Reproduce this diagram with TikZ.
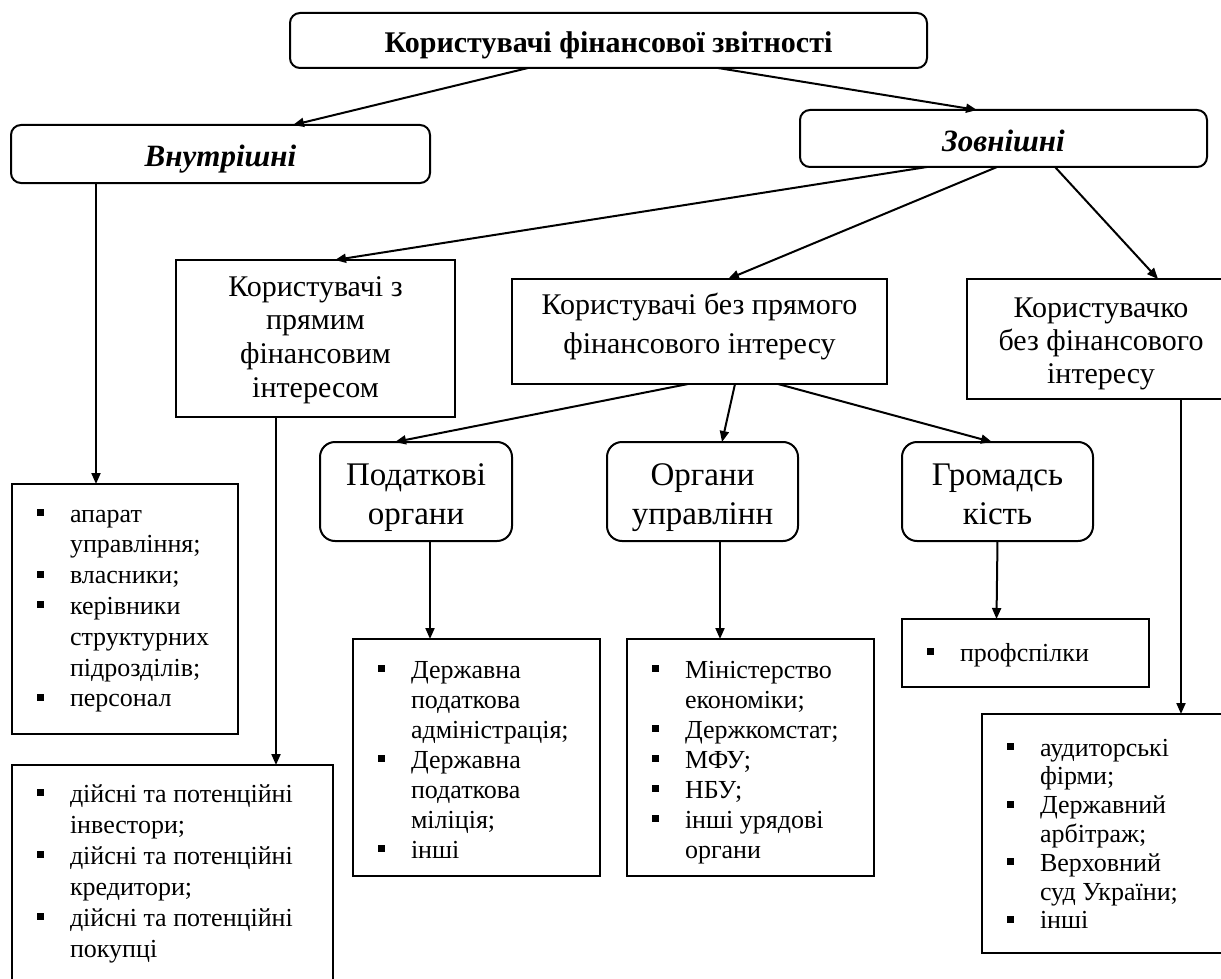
\documentclass[tikz,border=0pt]{standalone}
\usepackage{fontspec}
\setmainfont{Liberation Serif}
\usetikzlibrary{arrows.meta}
\newcommand{\sqb}{\makebox[33pt][l]{\rule[6pt]{7pt}{7pt}}}
\newcommand{\mlines}[1]{\begin{tabular}[t]{@{}c@{}}#1\end{tabular}}
\begin{document}
\begin{tikzpicture}[x=1pt,y=-1pt,
  box/.style={draw,line width=2pt,inner sep=0pt,outer sep=0pt,anchor=north west},
  rbox/.style={box,rounded corners=10pt},
  rrbox/.style={box,rounded corners=15pt},
  arr/.style={line width=2pt,-{Triangle[length=11pt,width=9pt]}},
  lst/.style={anchor=base west,inner sep=0pt,outer sep=0pt},
  ftop/.style={font=\fontsize{30}{34}\selectfont\bfseries},
  fsec/.style={font=\fontsize{31}{35}\selectfont\bfseries\itshape},
  fbig/.style={font=\fontsize{33}{39}\selectfont},
]
\useasboundingbox (0,0) rectangle (1221,979);
\clip (0,0) rectangle (1221,979);
\fill[white] (0,0) rectangle (1221,979);

% level 0 and 1
\node[rbox,ftop,text height=25pt,text depth=0pt,minimum width=637,minimum height=55] (top) at (290,13) {Користувачі фінансової звітності};
\node[rbox,fsec,text height=26pt,text depth=0pt,minimum width=419,minimum height=58] (vn) at (11,125) {Внутрішні};
\node[rbox,fsec,text height=27pt,text depth=0pt,minimum width=407,minimum height=57] (zv) at (800,110) {Зовнішні};

% level 2
\node[box,font=\fontsize{30}{33.7}\selectfont,text height=22pt,text depth=107pt,minimum width=279,minimum height=157] (kp) at (176,260) {\mlines{Користувачі з\\прямим\\фінансовим\\інтересом}};
\node[box,font=\fontsize{30}{39}\selectfont,text height=22pt,text depth=57pt,minimum width=375,minimum height=105] (kbp) at (512,279) {\mlines{Користувачі без прямого\\фінансового інтересу}};
\node[box,font=\fontsize{30}{33}\selectfont,text height=22pt,text depth=66pt,minimum width=268,minimum height=120] (kbf) at (967,279) {\mlines{Користувачко\\без фінансового\\інтересу}};

% level 3
\node[rrbox,fbig,text height=27pt,text depth=40pt,minimum width=192,minimum height=99] (po) at (320,442) {\mlines{Податкові\\органи}};
\node[rrbox,fbig,text height=27pt,text depth=40pt,minimum width=191,minimum height=99] (ou) at (607,442) {\mlines{Органи\\управлінн}};
\node[rrbox,fbig,text height=27pt,text depth=40pt,minimum width=191,minimum height=99] (gr) at (902,442) {\mlines{Громадсь\\кість}};

% list boxes
\node[box,minimum width=226,minimum height=250] (la) at (12,484) {};
\node[box,minimum width=321,minimum height=240] (ld) at (12,765) {};
\node[box,minimum width=247,minimum height=237] (lp) at (353,639) {};
\node[box,minimum width=247,minimum height=237] (lo) at (627,639) {};
\node[box,minimum width=247,minimum height=68] (lg) at (902,619) {};
\node[box,minimum width=258,minimum height=239] (lk) at (982,714) {};

% list texts
\node[lst,font=\fontsize{26}{30.8}\selectfont] (lat) at (37,522) {\begin{tabular}[t]{@{}l@{}l@{}}
\sqb & апарат\\ & управління;\\ \sqb & власники;\\ \sqb & керівники\\ & структурних\\ & підрозділів;\\ \sqb & персонал\end{tabular}};
\node[lst,font=\fontsize{26}{31}\selectfont] (ldt) at (37,802) {\begin{tabular}[t]{@{}l@{}l@{}}
\sqb & дійсні та потенційні\\ & інвестори;\\ \sqb & дійсні та потенційні\\ & кредитори;\\ \sqb & дійсні та потенційні\\ & покупці\end{tabular}};
\node[lst,font=\fontsize{26}{30}\selectfont] (lpt) at (378,678) {\begin{tabular}[t]{@{}l@{}l@{}}
\sqb & Державна\\ & податкова\\ & адміністрація;\\ \sqb & Державна\\ & податкова\\ & міліція;\\ \sqb & інші\end{tabular}};
\node[lst,font=\fontsize{26}{30}\selectfont] (lot) at (652,678) {\begin{tabular}[t]{@{}l@{}l@{}}
\sqb & Міністерство\\ & економіки;\\ \sqb & Держкомстат;\\ \sqb & МФУ;\\ \sqb & НБУ;\\ \sqb & інші урядові\\ & органи\end{tabular}};
\node[lst,font=\fontsize{26}{30}\selectfont] (lgt) at (927,661) {\sqb профспілки};
\node[lst,font=\fontsize{26}{28.8}\selectfont] (lkt) at (1007,756) {\begin{tabular}[t]{@{}l@{}l@{}}
\sqb & аудиторські\\ & фірми;\\ \sqb & Державний\\ & арбітраж;\\ \sqb & Верховний\\ & суд України;\\ \sqb & інші\end{tabular}};

% connectors
\draw[arr] ([xshift=-80.5]top.south) -- ([xshift=72.5]vn.north);
\draw[arr] ([xshift=109.5]top.south) -- ([xshift=-26.5]zv.north);
\draw[arr] ([xshift=-76.5]zv.south) -- ([xshift=19.5]kp.north);
\draw[arr] ([xshift=-6.5]zv.south) -- ([xshift=28.5]kbp.north);
\draw[arr] ([xshift=51.5]zv.south) -- ([xshift=57]kbf.north);
\draw[arr] ([xshift=-124.5]vn.south) -- ([xshift=-29]la.north);
\draw[arr] ([xshift=-39.5]kp.south) -- ([xshift=103.5]ld.north);
\draw[arr] ([xshift=-11.5]kbp.south) -- ([xshift=-21]po.north);
\draw[arr] ([xshift=35.5]kbp.south) -- ([xshift=19.5]ou.north);
\draw[arr] ([xshift=78.5]kbp.south) -- ([xshift=-5.5]gr.north);
\draw[arr] ([xshift=14]po.south) -- ([xshift=-46.5]lp.north);
\draw[arr] ([xshift=17.5]ou.south) -- ([xshift=-30.5]lo.north);
\draw[arr] (gr.south) -- ([xshift=-29]lg.north);
\draw[arr] ([xshift=80]kbf.south) -- ([xshift=70]lk.north);
\end{tikzpicture}
\end{document}
